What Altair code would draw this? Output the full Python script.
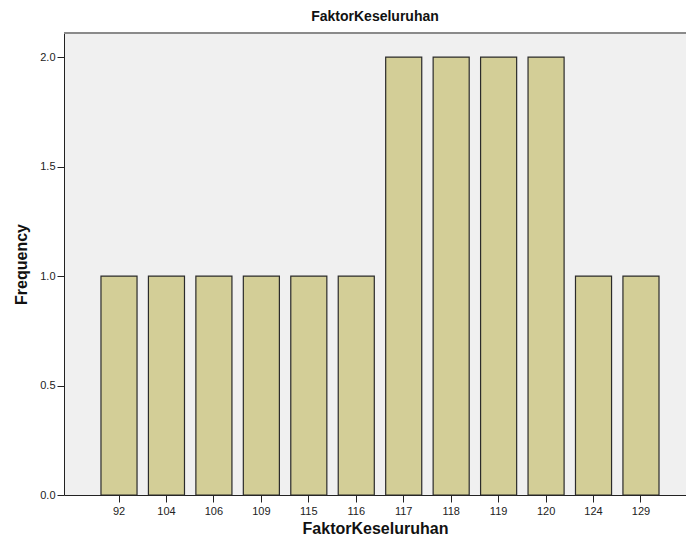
import altair as alt
import pandas as pd

categories = ["92", "104", "106", "109", "115", "116", "117", "118", "119", "120", "124", "129"]
frequency = [1, 1, 1, 1, 1, 1, 2, 2, 2, 2, 1, 1]
y_ticks = [0.0, 0.5, 1.0, 1.5, 2.0]

df = pd.DataFrame({"FaktorKeseluruhan": categories, "Frequency": frequency})

W, H = 622, 462
FONT = "Liberation Sans"

bars = alt.Chart(df).mark_bar(
    color="#D3CE97", stroke="#2b2b2b", strokeWidth=1.2
).encode(
    x=alt.X(
        "FaktorKeseluruhan:N",
        sort=categories,
        scale=alt.Scale(paddingInner=0.24, paddingOuter=0.674, align=0.578),
        axis=alt.Axis(
            title="FaktorKeseluruhan", labelAngle=0, labelFont=FONT, labelFontSize=11,
            labelColor="#222222", tickSize=7, tickColor="#222222", domainColor="#222222",
            labelPadding=3, titleFont=FONT, titleFontSize=16, titleFontWeight="bold",
            titleColor="#111111", titlePadding=4,
        ),
    ),
    y=alt.Y(
        "Frequency:Q",
        scale=alt.Scale(domain=[0, 2.11], nice=False),
        axis=alt.Axis(
            values=y_ticks, format=".1f", grid=False, title="Frequency",
            labelFont=FONT, labelFontSize=11, labelColor="#222222", tickSize=7,
            tickColor="#222222", domainColor="#222222", labelPadding=2,
            titleFont=FONT, titleFontSize=16, titleFontWeight="bold",
            titleColor="#111111", titlePadding=10,
        ),
    ),
)

top = alt.Chart(pd.DataFrame({"a": [0]})).mark_rule(color="#8a8a8a", strokeWidth=2).encode(
    x=alt.value(0), x2=alt.value(W), y=alt.value(0)
)

chart = alt.layer(bars, top).properties(
    width=W,
    height=H,
    title=alt.TitleParams(
        "FaktorKeseluruhan", font=FONT, fontSize=14, fontWeight="bold",
        color="#111111", anchor="middle", offset=8,
    ),
    autosize=alt.AutoSizeParams(type="none"),
    padding={"left": 56, "top": 25, "right": 0, "bottom": 43},
).configure_view(
    fill="#F0F0F0", stroke=None
)

chart.save("out.html", embed_options={"renderer": "svg", "actions": False})
